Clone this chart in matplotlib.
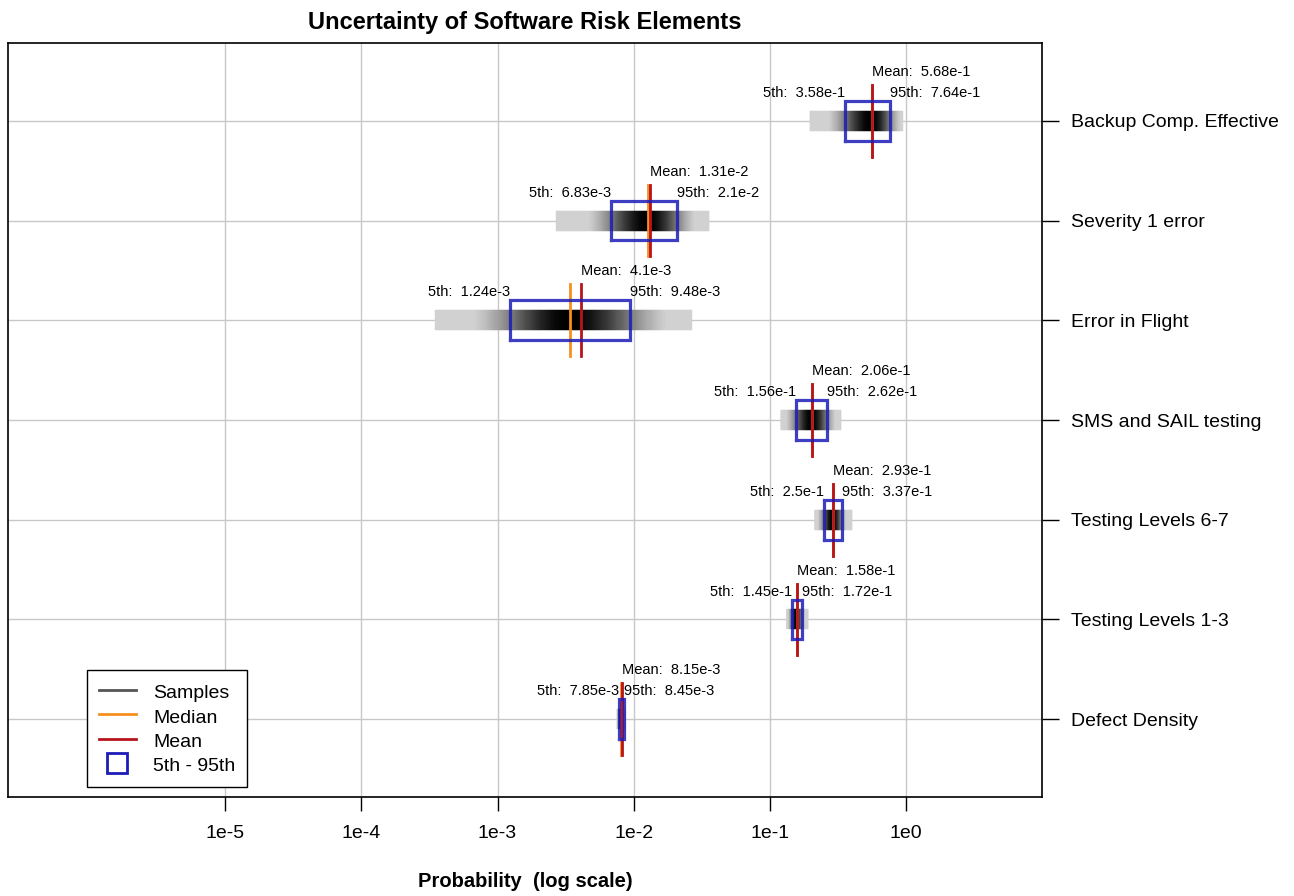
import numpy as np
import matplotlib
matplotlib.use("Agg")
import matplotlib.pyplot as plt
from matplotlib.lines import Line2D

plt.rcParams['font.family'] = ['Liberation Sans', 'DejaVu Sans']

# ---- data (bottom to top) ----
elements = ["Defect Density", "Testing Levels 1-3", "Testing Levels 6-7",
            "SMS and SAIL testing", "Error in Flight", "Severity 1 error",
            "Backup Comp. Effective"]
p05 = [7.85e-3, 1.45e-1, 2.5e-1, 1.56e-1, 1.24e-3, 6.83e-3, 3.58e-1]
p95 = [8.45e-3, 1.72e-1, 3.37e-1, 2.62e-1, 9.48e-3, 2.1e-2, 7.64e-1]
means = [8.15e-3, 1.58e-1, 2.93e-1, 2.06e-1, 4.1e-3, 1.31e-2, 5.68e-1]
medians = [8.14e-3, 1.575e-1, 2.92e-1, 2.04e-1, 3.39e-3, 1.28e-2, 5.62e-1]
sample_min = [7.6e-3, 1.33e-1, 2.14e-1, 1.20e-1, 3.5e-4, 2.7e-3, 1.97e-1]
sample_max = [8.7e-3, 1.90e-1, 4.00e-1, 3.33e-1, 2.7e-2, 3.6e-2, 9.5e-1]
mean_labels = ["8.15e-3", "1.58e-1", "2.93e-1", "2.06e-1", "4.1e-3", "1.31e-2", "5.68e-1"]
p05_labels = ["7.85e-3", "1.45e-1", "2.5e-1", "1.56e-1", "1.24e-3", "6.83e-3", "3.58e-1"]
p95_labels = ["8.45e-3", "1.72e-1", "3.37e-1", "2.62e-1", "9.48e-3", "2.1e-2", "7.64e-1"]
xtick_vals = [1e-5, 1e-4, 1e-3, 1e-2, 1e-1, 1e0]
xtick_labels = ["1e-5", "1e-4", "1e-3", "1e-2", "1e-1", "1e0"]

BLUE = '#1c1cb8'
RED = '#b8141c'
ORANGE = '#f5901e'
GRID = '#c8c8c8'

fig = plt.figure(figsize=(12.94, 8.96), dpi=100)
ax = fig.add_axes([8/1294, 1-797/896, (1042-8)/1294, (797-43)/896])
ax.set_xscale('log')
ax.set_xlim(10**-6.596, 10**1.0)
ax.set_ylim(0.22, 7.78)

ypos = np.arange(1, len(elements)+1)

for x in xtick_vals:
    ax.axvline(x, color=GRID, lw=1, zorder=0)
for y in ypos:
    ax.axhline(y, color=GRID, lw=1, zorder=0)

for i, y in enumerate(ypos):
    # sample density strip rendered as a gray gradient between sample extremes
    lmin, lmax = np.log10(sample_min[i]), np.log10(sample_max[i])
    lmed = np.log10(medians[i])
    sl = (lmed - np.log10(p05[i])) / 1.645
    sr = (np.log10(p95[i]) - lmed) / 1.645
    edges = np.linspace(lmin, lmax, 241)
    centers = 0.5 * (edges[:-1] + edges[1:])
    z = np.where(centers < lmed, (centers - lmed) / sl, (centers - lmed) / sr)
    d = np.maximum(np.exp(-z**2 / 4.0), 0.18)
    shades = [(1 - v, 1 - v, 1 - v) for v in d]
    ax.barh(np.full(len(centers), y), 10**edges[1:] - 10**edges[:-1],
            left=10**edges[:-1], height=0.2, color=shades,
            edgecolor=shades, linewidth=0.3, zorder=2)
    # median & mean
    ax.plot([medians[i]]*2, [y-0.36, y+0.36], color=ORANGE, lw=2, zorder=4)
    ax.plot([means[i]]*2, [y-0.36, y+0.36], color=RED, lw=2, zorder=5)
    # 5th-95th box
    ax.plot([p05[i], p95[i], p95[i], p05[i], p05[i]],
            [y-0.2, y-0.2, y+0.2, y+0.2, y-0.2], color=BLUE, lw=2.3,
            alpha=0.85, zorder=6, solid_joinstyle='miter')
    # annotations
    ax.text(means[i], y+0.49, "Mean:  " + mean_labels[i], ha='left', va='center',
            fontsize=10.5, zorder=7)
    ax.text(p05[i], y+0.28, "5th:  " + p05_labels[i], ha='right', va='center',
            fontsize=10.5, zorder=7)
    ax.text(p95[i], y+0.28, "95th:  " + p95_labels[i], ha='left', va='center',
            fontsize=10.5, zorder=7)

ax.set_xticks(xtick_vals)
ax.set_xticklabels(xtick_labels, fontsize=14)
ax.xaxis.set_minor_locator(matplotlib.ticker.NullLocator())
ax.tick_params(axis='x', direction='out', length=10, width=1, pad=10)

ax.yaxis.tick_right()
ax.set_yticks(ypos)
ax.set_yticklabels(elements, fontsize=14)
ax.tick_params(axis='y', direction='out', length=12, width=1, pad=9)

for s in ax.spines.values():
    s.set_linewidth(1.2)
    s.set_color('black')

ax.set_title("Uncertainty of Software Risk Elements", fontsize=17,
             fontweight='bold', pad=10)
ax.set_xlabel("Probability  (log scale)", fontsize=14.5, fontweight='bold', labelpad=22)

handles = [Line2D([], [], color='#555555', lw=2),
           Line2D([], [], color=ORANGE, lw=2),
           Line2D([], [], color=RED, lw=2),
           Line2D([], [], color=BLUE, lw=0, marker='s', markersize=14,
                  markerfacecolor='none', markeredgewidth=2)]
leg = ax.legend(handles, ["Samples", "Median", "Mean", "5th - 95th"],
                loc='lower left', bbox_to_anchor=((87-8)/1034, (797-787)/754),
                borderaxespad=0, fontsize=14, fancybox=False, framealpha=1,
                edgecolor='black', handlelength=1.9, handletextpad=0.9,
                labelspacing=0.18, handleheight=1.25, borderpad=0.6)
leg.get_frame().set_linewidth(1)

fig.savefig("out.png", dpi=100)
